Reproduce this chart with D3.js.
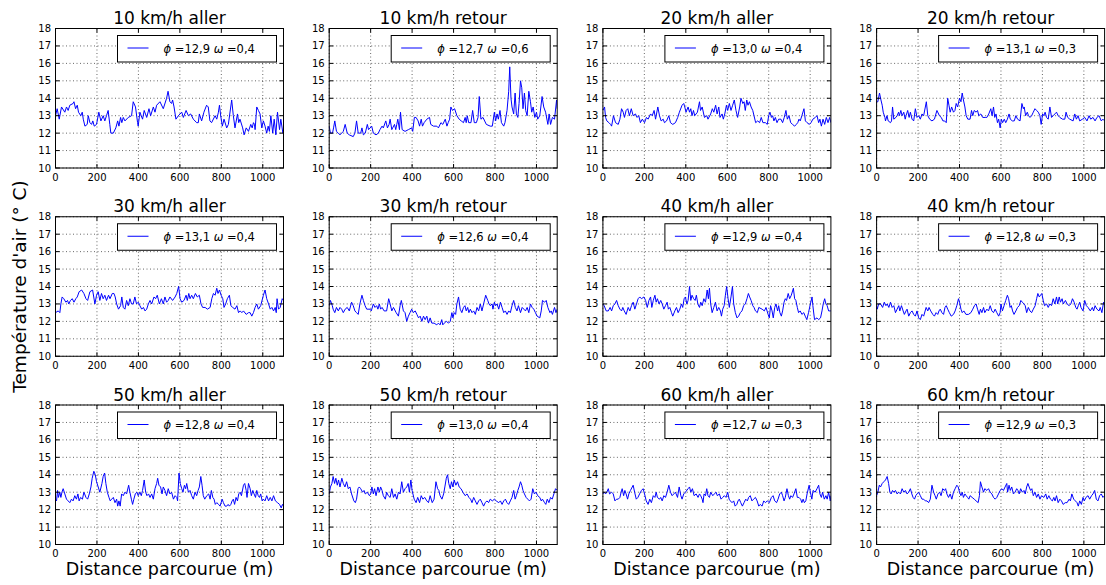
<!DOCTYPE html>
<html>
<head>
<meta charset="utf-8">
<script src="https://cdn.jsdelivr.net/npm/d3@7"></script>
<style>
  html, body { margin: 0; padding: 0; background: #fff; }
  svg { display: block; font-family: "DejaVu Sans", sans-serif; }
</style>
</head>
<body>
<div id="chart"></div>
<script>
// ---- data (distance in m, temperature in °C) ----
const speeds   = [10, 10, 20, 20, 30, 30, 40, 40, 50, 50, 60, 60];
const sens     = ["aller", "retour", "aller", "retour", "aller", "retour", "aller", "retour", "aller", "retour", "aller", "retour"];
const phiVals  = ["12,9", "12,7", "13,0", "13,1", "13,1", "12,6", "12,9", "12,8", "12,8", "13,0", "12,7", "12,9"];
const omegaVals = ["0,4", "0,6", "0,4", "0,3", "0,4", "0,4", "0,4", "0,3", "0,4", "0,4", "0,3", "0,3"];
const xTicks = [0, 200, 400, 600, 800, 1000];
const yTicks = [10, 11, 12, 13, 14, 15, 16, 17, 18];

const aller10 = [[0,13.0],[8,13.4],[18,12.8],[29,13.5],[45,13.2],[53,13.5],[61,13.3],[69,13.6],[85,13.7],[89,13.8],[97,13.4],[105,13.6],[111,13.2],[122,13.0],[129,13.2],[134,12.8],[142,12.4],[153,12.5],[158,13.0],[166,12.6],[174,12.5],[180,12.7],[187,12.4],[198,12.5],[209,13.2],[219,12.7],[230,13.0],[238,12.7],[246,13.0],[254,13.3],[262,12.5],[267,12.0],[279,12.0],[291,12.3],[300,12.7],[306,12.4],[314,12.9],[320,12.6],[327,12.9],[335,12.7],[351,12.9],[367,13.0],[375,13.8],[386,13.5],[396,12.6],[399,12.4],[407,13.2],[420,12.8],[428,13.3],[440,12.9],[451,13.4],[459,13.0],[472,13.5],[480,13.2],[488,13.6],[504,13.8],[520,13.4],[536,14.0],[543,14.4],[552,13.8],[560,13.7],[565,13.9],[572,13.5],[581,12.8],[593,13.0],[609,13.2],[617,12.9],[630,13.3],[641,13.0],[652,13.1],[665,12.8],[681,12.6],[689,12.6],[694,13.1],[705,12.7],[716,13.2],[729,13.6],[737,13.5],[745,12.7],[753,12.6],[770,13.0],[778,12.8],[786,13.2],[791,13.6],[797,13.0],[805,12.4],[813,12.8],[826,12.3],[834,12.5],[850,13.9],[858,13.0],[866,12.3],[878,13.1],[884,12.6],[890,12.8],[903,12.3],[910,11.9],[920,12.3],[931,12.1],[942,12.5],[949,12.3],[955,12.6],[960,12.5],[963,12.2],[971,13.5],[979,13.3],[987,13.1],[995,12.3],[1003,12.7],[1011,12.4],[1019,12.0],[1026,12.4],[1032,12.1],[1039,13.0],[1048,12.0],[1055,12.8],[1063,11.9],[1071,13.2],[1081,12.2],[1087,12.8],[1097,12.0],[1100,12.1]];
const retour10 = [[0,12.4],[6,12.0],[16,12.0],[21,12.3],[27,12.7],[35,12.1],[44,12.0],[52,11.9],[60,12.0],[68,12.1],[77,12.5],[87,12.0],[97,11.9],[116,11.8],[124,12.0],[132,12.7],[140,12.0],[152,12.0],[158,12.3],[165,11.9],[174,12.0],[184,12.5],[190,12.2],[205,12.4],[213,12.0],[226,11.9],[237,12.0],[245,12.2],[255,12.4],[261,12.3],[273,12.7],[281,12.3],[289,12.5],[294,12.8],[302,12.2],[315,12.5],[321,12.2],[326,12.5],[331,12.8],[339,12.2],[344,13.2],[352,12.2],[366,12.1],[382,12.2],[398,12.3],[403,12.1],[411,12.9],[419,12.9],[429,12.7],[436,12.4],[444,12.8],[450,12.4],[458,12.6],[471,12.8],[484,12.9],[490,12.5],[503,12.4],[519,12.4],[527,12.3],[539,12.6],[548,12.5],[560,12.8],[568,12.4],[574,12.6],[581,12.8],[587,13.5],[595,13.3],[605,13.4],[616,13.0],[627,12.8],[637,12.7],[648,12.6],[656,12.9],[661,12.6],[666,13.0],[673,12.6],[684,12.6],[692,13.3],[700,12.6],[710,12.6],[718,12.9],[724,14.1],[732,12.8],[742,12.9],[758,12.5],[777,12.4],[787,12.4],[797,13.2],[803,12.7],[810,13.1],[816,12.8],[824,13.3],[831,12.6],[842,12.4],[848,12.6],[858,13.3],[866,14.4],[871,15.8],[877,14.0],[882,13.5],[890,13.1],[897,14.3],[903,13.1],[910,12.9],[916,13.7],[923,15.0],[929,14.6],[935,13.4],[942,14.3],[948,13.3],[955,13.0],[963,14.4],[971,13.8],[977,13.2],[984,13.5],[992,12.9],[1000,13.2],[1006,12.8],[1016,13.0],[1027,14.1],[1035,13.5],[1044,13.2],[1055,12.5],[1061,13.1],[1068,12.5],[1077,12.9],[1087,12.8],[1097,13.9],[1100,13.4]];
const aller20 = [[0,13.3],[8,13.5],[13,12.9],[19,12.7],[29,12.6],[37,12.5],[42,12.4],[51,13.0],[61,12.6],[74,12.5],[82,12.8],[90,13.4],[98,13.2],[104,12.9],[112,13.3],[120,13.4],[128,13.0],[137,13.4],[146,13.0],[157,13.1],[165,12.9],[173,13.0],[181,12.6],[190,12.8],[201,12.6],[210,12.9],[218,12.8],[230,13.1],[238,13.0],[247,13.3],[254,12.8],[265,13.5],[273,13.0],[281,12.7],[291,12.8],[297,12.6],[307,12.7],[318,13.0],[326,12.6],[337,12.5],[350,12.6],[361,12.9],[369,13.2],[382,13.6],[390,13.7],[395,13.5],[401,13.2],[411,13.5],[418,13.2],[424,13.4],[430,13.0],[437,13.3],[443,13.0],[456,13.2],[466,13.8],[471,13.3],[479,13.5],[490,12.9],[501,13.0],[507,12.8],[520,13.1],[528,13.4],[535,13.2],[544,13.6],[551,13.1],[559,13.5],[565,12.9],[575,13.1],[581,12.8],[588,13.1],[596,13.6],[602,13.3],[610,13.7],[618,13.3],[626,13.6],[634,13.9],[642,13.3],[650,12.9],[660,13.5],[666,14.0],[675,13.7],[681,13.8],[687,13.3],[694,13.9],[700,13.6],[707,13.8],[715,13.5],[723,13.3],[729,13.0],[737,12.6],[747,12.7],[756,12.6],[764,12.9],[772,12.6],[784,12.6],[793,12.5],[800,13.0],[806,13.2],[813,12.9],[819,13.0],[825,12.7],[832,12.9],[840,12.6],[848,12.8],[859,12.8],[867,12.6],[875,12.9],[883,13.3],[890,12.8],[898,13.0],[906,12.6],[915,12.5],[925,12.4],[933,12.5],[940,12.6],[946,12.8],[952,12.7],[960,13.0],[970,13.4],[977,12.7],[985,12.6],[996,12.5],[1004,12.6],[1013,12.8],[1025,12.9],[1033,13.0],[1041,12.6],[1047,12.8],[1054,12.4],[1062,12.8],[1070,12.5],[1078,12.9],[1086,12.6],[1094,12.9],[1100,12.6]];
const retour20 = [[0,13.8],[6,13.8],[14,14.3],[21,13.9],[27,13.6],[32,13.2],[40,12.9],[43,12.7],[50,13.0],[56,12.7],[67,12.6],[72,12.7],[77,13.5],[83,12.8],[93,12.9],[99,13.0],[106,13.2],[110,13.0],[117,13.3],[123,13.0],[131,13.2],[138,12.8],[142,13.0],[150,13.3],[157,12.9],[163,13.2],[171,12.8],[179,12.7],[187,13.4],[195,12.9],[203,13.0],[211,12.8],[219,13.1],[227,13.0],[240,13.8],[247,13.0],[256,12.8],[267,12.7],[279,12.8],[291,13.3],[303,13.0],[312,12.9],[320,12.7],[328,12.7],[336,12.6],[343,14.0],[349,13.6],[355,13.2],[362,13.5],[371,13.2],[378,13.3],[384,13.7],[391,13.5],[400,14.0],[407,13.8],[413,14.3],[419,13.9],[426,13.5],[432,13.0],[440,12.8],[451,12.8],[458,13.3],[464,13.0],[471,13.3],[480,13.2],[487,13.3],[493,13.0],[503,13.1],[512,12.9],[524,12.9],[532,12.9],[541,13.1],[551,13.4],[557,13.0],[564,13.5],[570,12.9],[576,13.1],[583,12.6],[589,12.8],[596,12.3],[602,12.8],[608,12.6],[616,12.8],[623,12.6],[631,12.8],[639,13.1],[645,12.8],[655,12.7],[664,12.7],[672,13.0],[680,12.8],[692,12.7],[701,13.7],[708,13.4],[712,13.5],[719,13.0],[727,13.2],[733,13.0],[740,12.9],[748,13.0],[756,13.2],[764,13.4],[772,13.3],[780,13.2],[788,13.0],[794,12.5],[801,13.1],[807,13.0],[813,13.2],[820,12.9],[828,12.8],[836,13.5],[844,12.9],[852,13.0],[860,13.1],[868,13.2],[876,13.0],[884,12.9],[897,12.8],[908,12.8],[914,13.2],[922,12.9],[932,12.8],[948,12.7],[956,13.1],[964,12.8],[972,13.0],[980,12.7],[993,12.8],[1004,12.9],[1015,12.7],[1025,13.0],[1033,12.8],[1044,12.9],[1054,12.7],[1063,12.9],[1073,13.0],[1084,12.7],[1092,12.8],[1100,12.7]];
const aller30 = [[0,12.5],[13,12.6],[21,12.5],[26,13.0],[32,13.4],[40,13.3],[50,13.1],[58,13.2],[64,13.0],[72,13.2],[81,13.3],[89,13.1],[98,13.3],[105,13.4],[114,13.7],[126,13.8],[137,13.6],[147,13.3],[155,13.2],[166,13.7],[179,13.8],[190,13.0],[198,13.5],[206,13.7],[214,13.2],[222,13.6],[230,13.3],[238,13.5],[246,13.2],[256,13.5],[263,13.3],[274,13.6],[282,13.6],[288,13.4],[295,13.0],[304,12.7],[314,12.9],[320,13.4],[327,12.8],[335,12.7],[343,13.2],[351,12.9],[359,13.3],[367,13.0],[375,13.0],[383,13.4],[391,13.0],[399,13.1],[407,12.9],[416,12.7],[424,12.8],[432,12.6],[440,12.7],[448,13.0],[456,13.2],[464,13.0],[475,13.4],[483,13.3],[491,13.5],[501,13.0],[511,13.3],[520,13.0],[528,13.4],[536,13.1],[544,13.2],[552,13.4],[565,13.2],[577,13.4],[585,13.6],[594,14.0],[601,13.3],[609,13.1],[620,13.2],[630,13.5],[636,13.2],[643,13.6],[649,13.3],[657,13.5],[665,13.3],[675,13.6],[684,13.4],[694,13.5],[702,13.0],[710,12.8],[722,12.8],[733,12.7],[746,12.8],[754,13.3],[762,13.6],[770,13.5],[778,13.9],[784,13.6],[791,13.8],[799,13.5],[807,13.3],[813,12.8],[821,13.0],[829,13.3],[839,13.5],[846,12.9],[855,12.8],[866,12.7],[875,12.9],[883,12.5],[891,12.6],[899,12.5],[907,12.6],[920,12.4],[931,12.5],[939,12.5],[947,12.3],[955,12.5],[963,12.8],[971,13.0],[979,12.7],[990,12.9],[1003,13.5],[1011,13.8],[1019,13.3],[1028,13.0],[1036,12.7],[1044,12.8],[1052,12.6],[1060,12.8],[1065,12.5],[1069,13.3],[1076,12.7],[1084,12.8],[1094,13.3],[1100,13.2]];
const retour30 = [[0,12.9],[6,13.2],[15,12.9],[19,12.7],[27,12.5],[35,12.8],[44,12.6],[52,12.8],[60,12.7],[68,12.5],[77,12.7],[87,12.8],[97,12.6],[108,13.1],[116,12.9],[124,12.6],[132,12.5],[140,12.4],[148,13.0],[158,13.5],[165,13.2],[173,12.9],[181,12.7],[197,12.7],[203,12.6],[213,13.0],[221,12.8],[229,12.9],[235,12.7],[242,13.0],[248,12.7],[255,12.8],[265,12.6],[277,12.6],[287,13.3],[294,13.0],[302,12.6],[310,12.8],[323,12.5],[334,12.3],[342,12.9],[348,13.2],[358,12.6],[366,12.5],[374,12.0],[382,12.3],[390,12.5],[398,12.7],[406,12.5],[415,12.6],[423,12.4],[431,12.2],[439,12.3],[447,12.0],[455,12.3],[463,12.1],[471,12.3],[479,11.9],[487,12.2],[495,11.9],[506,11.9],[519,11.8],[527,11.9],[535,11.8],[543,12.1],[548,11.8],[555,11.9],[565,12.0],[576,11.9],[584,12.0],[592,12.5],[597,12.2],[603,12.5],[610,12.4],[616,13.0],[624,13.4],[632,12.7],[640,12.5],[648,12.8],[655,12.9],[661,12.6],[668,12.8],[674,12.5],[681,12.7],[689,12.5],[697,12.6],[705,12.4],[713,12.8],[721,12.6],[729,13.0],[737,12.6],[745,13.0],[755,13.5],[765,13.2],[771,13.0],[777,12.9],[786,13.0],[790,12.7],[797,13.1],[803,12.9],[810,13.0],[818,12.7],[826,13.1],[834,12.8],[842,12.5],[850,12.6],[858,12.4],[866,12.6],[874,12.5],[882,12.9],[890,13.2],[898,12.8],[906,12.6],[913,12.9],[923,12.5],[931,12.8],[939,12.7],[947,12.6],[955,12.8],[963,12.5],[971,13.0],[979,12.8],[987,12.7],[995,12.5],[1003,12.3],[1016,12.2],[1023,12.6],[1029,13.2],[1039,13.1],[1047,13.2],[1055,12.8],[1065,12.5],[1071,12.6],[1077,12.4],[1087,12.8],[1094,12.5],[1100,12.7]];
const aller40 = [[0,13.0],[6,12.9],[16,12.6],[26,12.6],[35,12.8],[42,12.6],[50,12.9],[58,13.0],[66,13.2],[74,12.9],[82,12.7],[90,12.6],[96,12.8],[103,12.6],[112,12.4],[122,12.8],[130,12.6],[138,12.9],[146,13.1],[154,12.7],[162,13.0],[170,13.3],[178,13.4],[186,13.3],[198,13.4],[206,13.2],[214,12.8],[222,13.2],[230,13.4],[236,12.8],[243,13.2],[251,13.5],[257,13.1],[263,13.3],[271,13.0],[279,13.2],[286,13.0],[294,12.7],[302,12.9],[310,13.1],[316,12.7],[323,12.8],[331,12.5],[337,12.3],[347,12.6],[355,12.8],[363,12.5],[371,12.7],[379,13.0],[385,12.8],[392,13.3],[398,13.4],[405,13.0],[411,13.2],[418,14.0],[424,13.2],[430,13.5],[438,13.3],[445,13.2],[451,13.5],[458,13.0],[466,12.8],[472,13.1],[479,12.9],[487,13.3],[495,13.1],[503,13.8],[509,13.3],[514,13.9],[520,13.0],[527,12.5],[535,12.8],[543,13.1],[551,12.6],[559,12.8],[567,12.6],[572,12.3],[578,12.7],[585,12.9],[591,13.5],[597,14.0],[604,13.3],[610,12.8],[618,13.4],[625,14.0],[631,13.0],[639,12.5],[647,12.2],[655,12.3],[663,12.5],[671,12.6],[679,12.9],[687,13.0],[695,13.3],[702,13.6],[708,13.4],[715,13.2],[723,12.9],[729,12.8],[736,12.6],[745,12.5],[752,12.8],[768,12.7],[779,12.6],[787,12.8],[797,12.4],[803,12.2],[809,12.9],[816,12.6],[822,12.2],[829,12.8],[835,13.0],[843,12.6],[848,12.9],[854,12.5],[861,12.3],[867,12.6],[874,13.1],[880,13.3],[886,13.2],[894,13.6],[901,13.3],[909,13.5],[919,13.9],[925,13.3],[931,13.2],[938,12.8],[944,12.5],[952,12.6],[960,12.4],[969,12.5],[976,12.3],[984,12.1],[992,12.5],[1001,13.0],[1009,13.4],[1013,12.9],[1021,12.1],[1033,12.2],[1041,12.1],[1050,12.2],[1057,12.6],[1063,13.0],[1070,13.3],[1076,13.0],[1082,12.9],[1089,12.6],[1100,12.6]];
const retour40 = [[0,12.9],[3,12.7],[10,13.0],[19,13.0],[29,12.8],[37,13.1],[45,12.9],[51,13.0],[59,12.8],[67,13.1],[75,12.8],[83,12.9],[91,12.5],[99,12.7],[107,12.9],[112,12.6],[120,12.9],[128,12.6],[134,12.4],[142,12.6],[147,12.7],[155,12.3],[163,12.5],[171,12.6],[179,12.4],[187,12.3],[195,12.6],[203,12.2],[211,12.1],[219,12.4],[227,12.3],[239,12.8],[247,12.6],[253,12.8],[261,12.6],[271,12.4],[279,12.3],[287,12.5],[295,12.4],[301,12.6],[307,12.7],[315,12.5],[323,12.4],[330,12.8],[336,12.9],[343,12.7],[351,12.5],[360,12.3],[371,12.4],[379,12.6],[387,12.9],[395,13.3],[400,13.1],[407,12.7],[413,12.5],[421,12.6],[431,12.4],[443,12.4],[455,12.5],[464,12.7],[472,12.9],[480,13.0],[487,12.7],[495,12.4],[501,12.7],[508,12.5],[516,12.8],[522,12.5],[532,12.7],[540,12.6],[548,12.9],[556,12.6],[564,12.5],[572,12.7],[580,12.5],[589,12.3],[596,12.5],[600,13.0],[607,12.6],[615,12.9],[623,13.2],[631,13.5],[637,13.3],[644,12.8],[650,12.9],[656,12.6],[663,12.4],[672,12.6],[680,12.8],[688,12.9],[696,13.2],[703,13.1],[711,13.0],[717,12.9],[724,12.5],[732,12.8],[740,12.6],[748,12.5],[756,12.7],[765,12.9],[772,13.3],[778,13.6],[785,13.4],[791,13.5],[797,13.6],[804,13.2],[810,12.9],[820,13.0],[828,12.8],[836,13.0],[844,12.9],[852,13.3],[860,13.0],[868,13.4],[874,13.0],[881,13.4],[887,13.1],[895,13.3],[901,13.0],[911,13.2],[919,13.0],[929,12.9],[937,13.0],[945,13.3],[953,13.1],[961,12.8],[967,12.7],[973,12.9],[980,13.1],[986,12.8],[996,12.6],[1004,13.2],[1012,12.9],[1020,12.8],[1031,12.6],[1041,12.8],[1047,12.6],[1054,12.9],[1063,12.7],[1073,12.6],[1079,12.8],[1087,12.5],[1095,13.1],[1100,13.0]];
const aller50 = [[0,12.6],[5,12.5],[10,13.1],[14,12.7],[21,13.0],[26,12.7],[31,13.0],[37,13.2],[45,12.9],[53,12.6],[61,12.5],[69,12.4],[77,12.6],[85,12.5],[93,12.8],[101,12.6],[108,12.9],[114,12.5],[121,12.7],[130,12.6],[137,13.0],[147,12.7],[155,12.6],[163,12.9],[171,13.3],[177,13.8],[185,14.2],[192,14.0],[198,13.6],[206,13.3],[214,13.0],[224,13.5],[230,13.9],[237,14.1],[243,13.5],[250,13.0],[258,12.7],[264,12.5],[271,12.6],[279,12.7],[287,12.4],[295,12.6],[300,12.2],[306,12.5],[312,12.2],[319,12.9],[327,12.8],[335,13.0],[343,12.9],[353,13.4],[359,13.0],[366,12.6],[372,12.3],[378,12.6],[385,12.9],[393,13.0],[399,12.8],[407,13.0],[414,12.8],[420,13.1],[428,13.7],[435,13.0],[441,12.8],[449,12.9],[456,12.7],[464,12.9],[472,12.6],[480,13.2],[488,13.5],[493,13.8],[499,13.4],[507,13.3],[514,12.9],[520,13.3],[528,13.1],[536,12.8],[544,13.2],[552,12.9],[560,13.0],[569,12.6],[577,12.8],[585,12.7],[589,12.5],[596,14.1],[602,13.5],[609,13.2],[615,13.0],[622,13.4],[628,13.2],[633,13.5],[641,13.0],[649,13.1],[657,12.8],[665,12.6],[673,13.0],[681,12.8],[688,13.1],[694,13.3],[701,13.9],[707,13.4],[713,12.8],[720,12.6],[730,12.8],[739,12.9],[746,12.6],[752,13.1],[759,12.7],[765,12.6],[771,12.3],[778,12.4],[787,12.3],[794,12.2],[804,12.6],[810,12.4],[818,12.2],[826,12.2],[833,12.3],[839,12.2],[846,12.3],[852,12.5],[858,12.6],[864,12.3],[871,12.7],[878,12.5],[884,12.9],[891,13.0],[897,12.8],[907,13.4],[913,13.5],[920,13.1],[924,12.7],[931,13.5],[939,13.2],[945,12.8],[952,13.1],[958,12.9],[965,12.7],[971,13.1],[978,12.8],[984,12.7],[990,12.9],[997,12.5],[1003,12.6],[1011,12.5],[1019,12.8],[1028,12.5],[1036,12.7],[1044,12.5],[1052,12.8],[1061,12.5],[1071,12.4],[1081,12.3],[1089,12.1],[1095,12.3],[1100,12.2]];
const retour50 = [[0,12.9],[6,13.3],[13,13.5],[19,13.9],[26,13.5],[32,13.8],[39,13.4],[45,13.7],[52,13.3],[61,13.8],[68,13.5],[76,13.3],[84,13.6],[92,13.2],[100,13.3],[108,12.9],[119,12.5],[126,12.4],[132,12.6],[139,13.2],[145,13.3],[152,13.2],[161,13.0],[168,13.1],[174,12.9],[184,13.0],[194,12.8],[200,12.9],[206,13.3],[213,12.9],[219,13.2],[226,12.8],[235,13.3],[242,13.0],[248,13.3],[255,13.1],[261,12.8],[271,12.6],[277,13.0],[285,12.8],[294,12.7],[302,13.2],[310,12.7],[318,12.9],[326,12.6],[334,13.0],[342,12.9],[350,13.6],[358,13.0],[366,13.2],[374,13.3],[381,13.5],[387,13.0],[394,13.7],[400,13.1],[410,12.6],[419,12.4],[427,12.7],[436,12.4],[444,12.8],[452,12.6],[461,12.7],[471,12.5],[479,12.4],[487,12.8],[497,12.4],[506,12.6],[515,13.6],[523,13.2],[529,13.1],[535,12.8],[544,12.6],[552,12.9],[558,13.3],[565,13.8],[571,14.0],[577,13.5],[584,13.2],[590,13.6],[597,13.3],[603,13.7],[611,13.4],[619,13.6],[627,13.3],[636,13.2],[645,13.0],[656,12.8],[665,12.9],[674,12.7],[682,12.6],[689,12.4],[697,12.7],[705,12.5],[713,12.3],[721,12.5],[729,12.6],[737,12.4],[745,12.2],[753,12.4],[761,12.5],[769,12.4],[777,12.6],[787,12.5],[797,12.6],[806,12.5],[818,12.4],[826,12.5],[834,12.3],[842,12.5],[850,12.6],[858,12.4],[866,12.3],[874,12.5],[882,12.7],[890,13.1],[897,12.6],[903,12.8],[910,13.1],[916,13.3],[923,13.6],[929,13.4],[935,13.1],[942,12.9],[950,12.7],[958,12.6],[966,12.5],[974,12.6],[982,13.2],[990,12.9],[998,13.0],[1006,12.8],[1016,12.7],[1023,12.5],[1029,12.6],[1039,12.4],[1045,12.3],[1052,12.6],[1060,12.4],[1068,12.7],[1076,12.6],[1084,12.9],[1092,13.2],[1100,13.1]];
const aller60 = [[0,12.9],[6,13.0],[13,12.9],[19,13.0],[26,13.2],[32,12.9],[42,13.0],[50,12.9],[58,12.5],[66,12.6],[74,12.6],[82,12.7],[88,13.0],[93,13.2],[100,12.8],[106,13.1],[112,12.9],[119,12.6],[125,12.9],[133,13.1],[146,13.4],[153,13.0],[161,12.6],[169,12.7],[177,12.9],[186,13.1],[194,13.2],[201,12.9],[209,12.5],[218,12.3],[226,12.6],[234,12.4],[243,12.8],[251,12.7],[257,13.0],[263,12.7],[273,12.6],[279,12.7],[286,12.5],[294,12.8],[302,12.7],[310,13.0],[318,13.4],[326,13.0],[334,12.8],[342,12.9],[350,13.0],[360,12.7],[368,13.3],[376,12.8],[382,12.6],[390,12.9],[398,13.0],[411,13.2],[418,13.3],[424,13.0],[432,13.2],[440,12.8],[450,12.9],[459,12.7],[466,12.9],[472,12.8],[479,12.6],[483,12.4],[488,12.9],[495,12.8],[501,13.2],[507,12.8],[514,12.7],[520,13.0],[530,12.8],[538,12.9],[546,13.0],[552,12.8],[562,12.9],[570,12.6],[578,12.7],[586,12.8],[594,12.7],[602,13.0],[609,12.6],[615,12.5],[623,12.4],[631,12.5],[638,12.2],[646,12.3],[652,12.5],[658,12.6],[665,12.4],[673,12.2],[681,12.4],[689,12.6],[697,12.5],[703,12.7],[711,12.8],[719,12.5],[727,12.6],[736,12.7],[744,12.5],[752,12.2],[759,12.3],[768,12.2],[776,12.5],[784,12.4],[793,12.5],[803,12.4],[813,12.7],[821,12.8],[829,12.5],[838,12.4],[845,12.6],[853,12.9],[861,13.0],[867,12.8],[874,12.5],[880,12.7],[888,13.2],[895,12.8],[901,12.6],[907,12.8],[915,12.7],[922,12.9],[931,13.2],[938,12.7],[946,12.7],[954,12.6],[960,12.4],[966,12.6],[972,12.4],[979,12.5],[985,12.9],[995,13.4],[1001,13.0],[1008,12.6],[1014,13.1],[1024,13.0],[1033,13.2],[1041,13.4],[1047,12.9],[1054,12.7],[1060,13.0],[1068,12.6],[1076,12.8],[1082,12.6],[1089,13.0],[1097,12.5],[1100,12.8]];
const retour60 = [[0,12.8],[6,13.0],[13,13.4],[19,13.3],[27,13.5],[35,13.6],[43,13.7],[51,13.9],[58,13.5],[64,13.0],[70,12.9],[77,13.1],[83,13.0],[91,13.1],[99,12.9],[107,13.0],[115,12.9],[123,13.2],[131,13.0],[139,13.1],[147,12.9],[155,13.0],[163,13.2],[170,12.9],[176,12.7],[183,12.6],[189,12.8],[195,12.9],[203,13.0],[211,12.8],[219,12.6],[227,12.6],[235,12.5],[243,12.5],[251,12.4],[259,12.6],[267,13.4],[275,13.0],[282,12.8],[288,12.6],[296,12.9],[304,13.0],[311,12.8],[319,13.2],[327,13.1],[333,13.2],[339,12.9],[347,12.7],[355,12.9],[363,12.6],[371,13.0],[379,13.2],[387,13.4],[394,13.3],[400,13.0],[407,12.8],[413,13.0],[419,12.7],[426,12.9],[432,12.8],[439,12.7],[445,12.6],[451,12.8],[461,12.7],[471,12.6],[480,12.5],[490,12.4],[496,12.8],[501,13.6],[508,13.3],[516,13.0],[522,13.2],[532,13.1],[540,13.2],[548,13.0],[556,12.9],[564,12.7],[572,12.6],[580,12.7],[588,12.9],[596,13.1],[605,13.2],[612,13.1],[620,13.3],[628,13.5],[632,13.0],[639,13.4],[645,13.1],[652,13.3],[660,12.9],[668,13.0],[676,13.2],[682,13.1],[688,12.9],[695,13.2],[703,13.0],[711,13.1],[717,12.9],[724,13.3],[730,13.5],[736,13.3],[743,13.1],[749,13.2],[756,12.8],[764,13.0],[772,12.7],[780,12.9],[788,12.6],[796,12.8],[807,12.7],[816,12.9],[823,12.6],[831,12.8],[839,12.6],[848,12.5],[855,12.7],[861,12.5],[868,12.8],[876,12.4],[884,12.6],[892,12.5],[900,12.3],[910,12.4],[919,12.4],[929,12.6],[935,12.5],[942,12.9],[951,12.6],[959,12.5],[967,12.4],[973,12.2],[980,12.5],[988,12.3],[996,12.7],[1002,12.5],[1010,12.7],[1020,12.8],[1028,12.6],[1037,12.8],[1044,12.9],[1052,13.1],[1060,12.6],[1068,12.5],[1076,12.8],[1084,12.9],[1092,12.7],[1100,12.8]];

const series = [aller10, retour10, aller20, retour20, aller30, retour30,
                aller40, retour40, aller50, retour50, aller60, retour60];

// ---- layout ----
const W = 1106, H = 585;
const left0 = 55.5, colStep = 273.7, pw = 228;
const top0 = 28.5, rowStep = 188.25, ph = 139.5;
const blue = '#0000ff';

const svg = d3.select('#chart').append('svg')
    .attr('width', W)
    .attr('height', H)
    .attr('viewBox', [0, 0, W, H]);

svg.append('rect').attr('width', W).attr('height', H).attr('fill', '#fff');

const x = d3.scaleLinear().domain([0, 1100]).range([0, pw]);
const y = d3.scaleLinear().domain([10, 18]).range([ph, 0]);
const line = d3.line().x(d => x(d[0])).y(d => y(d[1]));

svg.append('defs').append('clipPath')
    .attr('id', 'plot-clip')
    .append('rect')
    .attr('width', pw)
    .attr('height', ph);

series.forEach((data, i) => {
    const col = i % 4, row = Math.floor(i / 4);
    const g = svg.append('g')
        .attr('transform', `translate(${left0 + col * colStep},${top0 + row * rowStep})`);

    // dotted grid
    g.append('g').selectAll('line.gx').data(xTicks).join('line')
        .attr('x1', d => x(d)).attr('x2', d => x(d))
        .attr('y1', 0).attr('y2', ph)
        .attr('stroke', '#000').attr('stroke-width', 0.6)
        .attr('stroke-dasharray', '1,2.5');
    g.append('g').selectAll('line.gy').data(yTicks).join('line')
        .attr('x1', 0).attr('x2', pw)
        .attr('y1', d => y(d)).attr('y2', d => y(d))
        .attr('stroke', '#000').attr('stroke-width', 0.6)
        .attr('stroke-dasharray', '1,2.5');

    // data line
    g.append('path')
        .datum(data)
        .attr('clip-path', 'url(#plot-clip)')
        .attr('fill', 'none')
        .attr('stroke', blue)
        .attr('stroke-width', 1)
        .attr('stroke-linejoin', 'round')
        .attr('d', line);

    // inward ticks on all four sides
    const tk = 4;
    xTicks.forEach(t => {
        g.append('line').attr('x1', x(t)).attr('x2', x(t)).attr('y1', ph).attr('y2', ph - tk).attr('stroke', '#000');
        g.append('line').attr('x1', x(t)).attr('x2', x(t)).attr('y1', 0).attr('y2', tk).attr('stroke', '#000');
    });
    yTicks.forEach(t => {
        g.append('line').attr('x1', 0).attr('x2', tk).attr('y1', y(t)).attr('y2', y(t)).attr('stroke', '#000');
        g.append('line').attr('x1', pw).attr('x2', pw - tk).attr('y1', y(t)).attr('y2', y(t)).attr('stroke', '#000');
    });

    // frame
    g.append('rect')
        .attr('width', pw).attr('height', ph)
        .attr('fill', 'none').attr('stroke', '#000').attr('stroke-width', 1);

    // tick labels
    g.append('g').selectAll('text').data(xTicks).join('text')
        .attr('x', d => x(d)).attr('y', ph + 12.5)
        .attr('text-anchor', 'middle')
        .attr('font-size', '10px')
        .text(d => d);
    g.append('g').selectAll('text').data(yTicks).join('text')
        .attr('x', -4.5).attr('y', d => y(d)).attr('dy', '0.35em')
        .attr('text-anchor', 'end')
        .attr('font-size', '10px')
        .text(d => d);

    // title
    g.append('text')
        .attr('x', pw / 2).attr('y', -4.5)
        .attr('text-anchor', 'middle')
        .attr('font-size', '17px')
        .text(`${speeds[i]} km/h ${sens[i]}`);

    // legend
    const lw = 159, lh = 26.5, lx = pw - 7 - lw, ly = 7;
    const leg = g.append('g').attr('transform', `translate(${lx},${ly})`);
    leg.append('rect')
        .attr('width', lw).attr('height', lh)
        .attr('fill', '#fff').attr('stroke', '#000').attr('stroke-width', 1);
    leg.append('line')
        .attr('x1', 10).attr('x2', 31).attr('y1', 12.5).attr('y2', 12.5)
        .attr('stroke', blue).attr('stroke-width', 1);
    const lt = leg.append('text')
        .attr('x', 46).attr('y', 17)
        .attr('font-size', '11.5px');
    lt.append('tspan').attr('font-style', 'italic').text('ϕ');
    lt.append('tspan').text(` =${phiVals[i]} `);
    lt.append('tspan').attr('font-style', 'italic').text('ω');
    lt.append('tspan').text(` =${omegaVals[i]}`);

    // x axis label on the bottom row
    if (row === 2) {
        g.append('text')
            .attr('x', pw / 2).attr('y', ph + 30)
            .attr('text-anchor', 'middle')
            .attr('font-size', '17.5px')
            .text('Distance parcourue (m)');
    }
});

// shared y label
svg.append('text')
    .attr('transform', `translate(26,${(top0 + top0 + 2 * rowStep + ph) / 2}) rotate(-90)`)
    .attr('text-anchor', 'middle')
    .attr('font-size', '18.5px')
    .text("Température d'air (° C)");
</script>
</body>
</html>
